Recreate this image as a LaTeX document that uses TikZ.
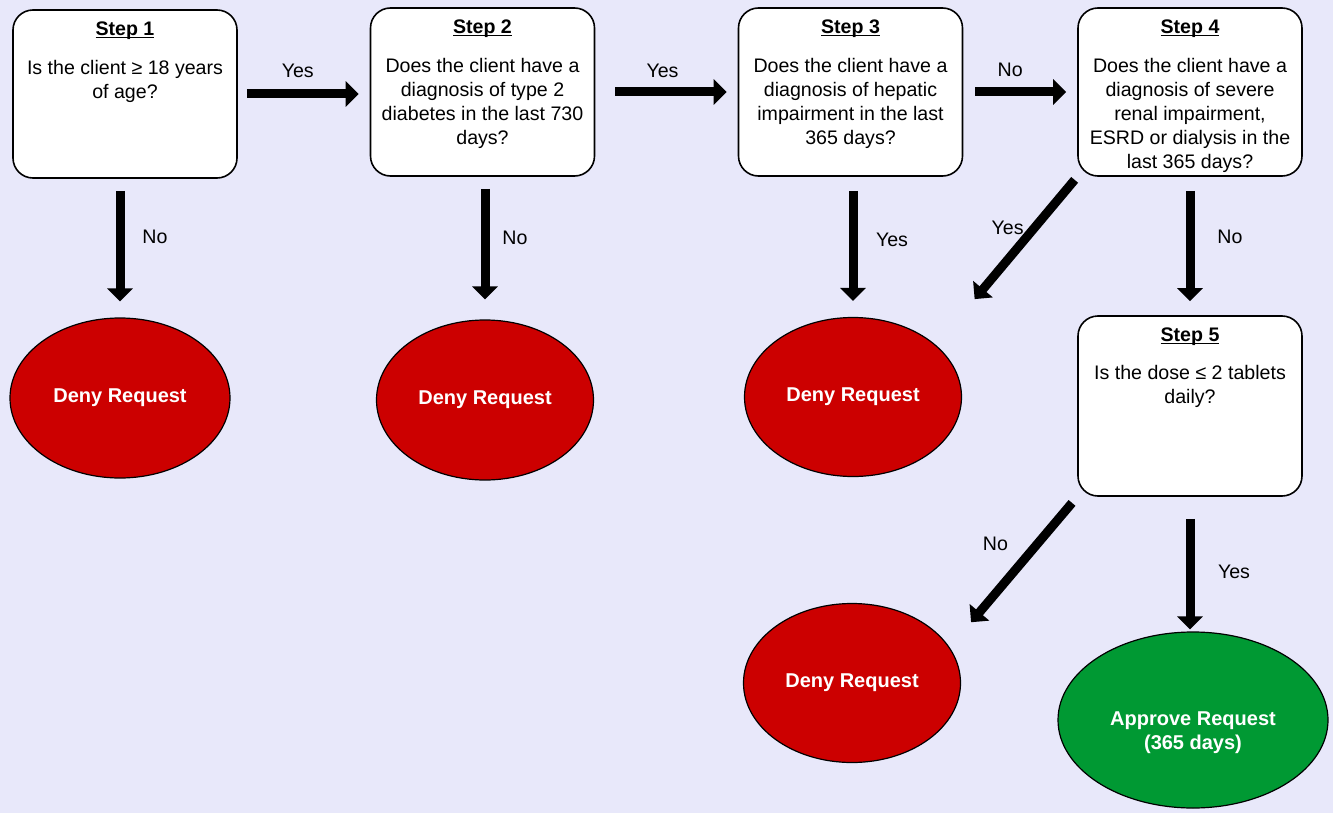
\documentclass[tikz,border=0pt]{standalone}
\usepackage{fontspec}
\setmainfont{Liberation Sans}
\usetikzlibrary{shapes.geometric,arrows.meta}
\definecolor{bgcol}{HTML}{E8E8FA}
\definecolor{denyred}{HTML}{CC0000}
\definecolor{approvegreen}{HTML}{009933}
\newsavebox\titlebox
\newcommand{\steptitle}[1]{\sbox\titlebox{\textbf{#1}}\usebox\titlebox\llap{\rule[-1.3pt]{\wd\titlebox}{0.6pt}}}
\newcommand{\stepcontent}[4]{\begin{minipage}[t][#1][t]{104pt}\vspace*{2pt}\centering\steptitle{#2}\par\vspace{#3}#4\end{minipage}}
\begin{document}
\begin{tikzpicture}[x=0.5pt,y=-0.5pt,every node/.style={font=\fontsize{9.8}{12}\selectfont},
  step node/.style={draw,rounded corners=10pt,fill=white,line width=0.8pt,inner sep=4pt},
  deny node/.style={ellipse,draw,fill=denyred,text=white,font=\fontsize{10}{12}\selectfont\bfseries,minimum width=108.5pt,minimum height=79.5pt,inner sep=0pt,line width=0.6pt},
  approve node/.style={deny node,fill=approvegreen,minimum width=135pt,minimum height=88pt},
  big arrow/.style={line width=4.5pt,-{Triangle[width=12.5pt,length=6.5pt]}},
  arrow label/.style={midway}]
  	\fill[bgcol] (0,0) rectangle (1333,813);
  	
  	\node[step node] (s1) at (125,94) {\stepcontent{76pt}{Step 1}{7.5pt}{Is the client ≥ 18 years\\of age?}};
  	\node[step node] (s2) at (482.5,92) {\stepcontent{76pt}{Step 2}{7.5pt}{Does the client have a\\diagnosis of type 2\\diabetes in the last 730\\days?}};
  	\node[step node] (s3) at (850.5,92) {\stepcontent{76pt}{Step 3}{7.5pt}{Does the client have a\\diagnosis of hepatic\\impairment in the last\\365 days?}};
  	\node[step node] (s4) at (1190,92) {\stepcontent{76pt}{Step 4}{7.5pt}{Does the client have a\\diagnosis of severe\\renal impairment,\\ESRD or dialysis in the\\last 365 days?}};
  	\node[step node] (s5) at (1190,406) {\stepcontent{82pt}{Step 5}{7pt}{Is the dose ≤ 2 tablets\\daily?}};
  	
  	\node[deny node,minimum width=110pt,minimum height=80pt] (d1) at (120,398) {Deny Request};
  	\node[deny node,minimum height=80pt] (d2) at (485,400) {Deny Request};
  	\node[deny node] (d3) at (853,397) {Deny Request};
  	\node[deny node] (d4) at (852,683) {Deny Request};
  	\node[approve node] (a1) at (1193,720) {\raisebox{-6.5pt}[\height][\depth]{\begin{tabular}{@{}c@{}}Approve Request\\(365 days)\end{tabular}}};
  	
  	\draw[big arrow,shorten <=4.5pt,shorten >=5.5pt] (s1.east) -- (s1.east -| s2.west) node[arrow label,xshift=-3pt,yshift=11.5pt] {Yes};
  	\draw[big arrow,shorten <=10pt,shorten >=5.5pt] (s2.east) -- (s2.east -| s3.west) node[arrow label,xshift=-2pt,yshift=10.5pt] {Yes};
  	\draw[big arrow,shorten <=6pt,shorten >=5.5pt] (s3.east) -- (s3.east -| s4.west) node[arrow label,xshift=-5pt,yshift=11pt] {No};
  	
  	\draw[big arrow,shorten <=6pt,shorten >=8pt] (d1.north |- s1.south) -- (d1.north) node[arrow label,xshift=17.5pt,yshift=5.5pt] {No};
  	\draw[big arrow,shorten <=6pt,shorten >=10pt] (d2.north |- s2.south) -- (d2.north) node[arrow label,xshift=15pt,yshift=5pt] {No};
  	\draw[big arrow,shorten <=7pt,shorten >=8pt] (d3.north |- s3.south) -- (d3.north) node[arrow label,xshift=19.5pt,yshift=3.5pt] {Yes};
  	\draw[big arrow,shorten <=7pt,shorten >=7pt] (s4.south) -- (s5.north) node[arrow label,xshift=20pt,yshift=4.5pt] {No};
  	\draw[big arrow,shorten <=11pt,shorten >=1pt] (s5.south) -- (s5.south |- a1.north) node[arrow label,xshift=22pt,yshift=-4pt] {Yes};
  	
  	\draw[big arrow,shorten <=2pt,shorten >=30pt] (s4.south west) -- (d3.32) node[arrow label,xshift=0.5pt,yshift=16.5pt] {Yes};
  	\draw[big arrow,shorten <=4pt,shorten >=16.5pt] (s5.south west) -- (d4.20) node[arrow label,xshift=-9pt,yshift=14pt] {No};
\end{tikzpicture}
\end{document}
